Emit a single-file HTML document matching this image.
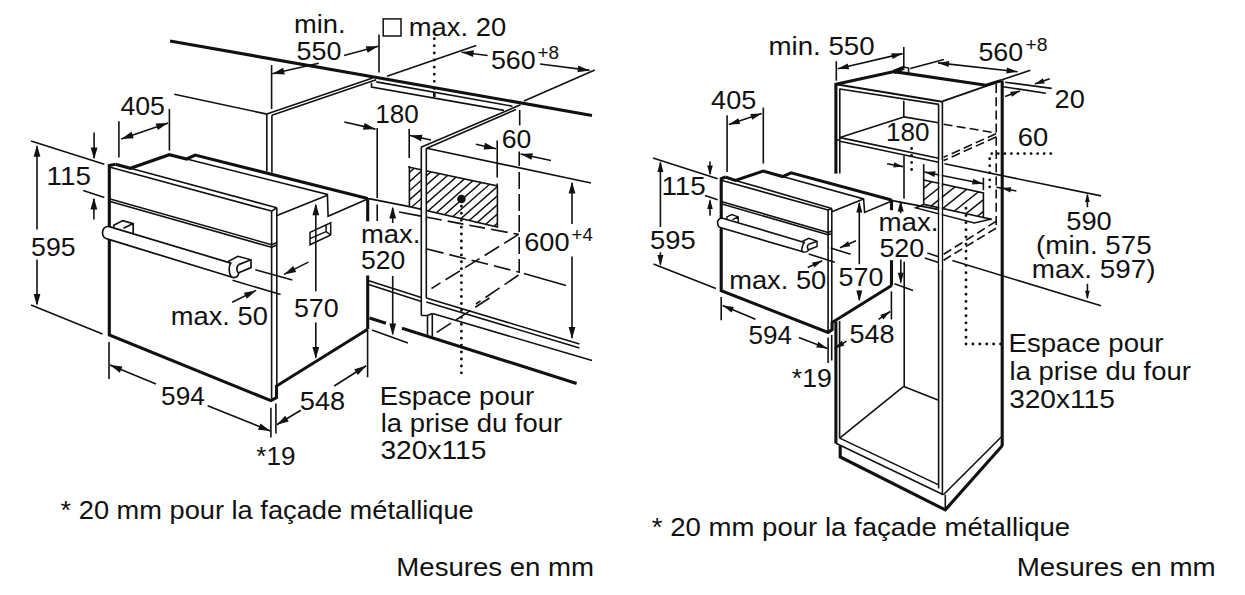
<!DOCTYPE html>
<html lang="fr"><head><meta charset="utf-8"><title>Mesures en mm</title>
<style>
html,body{margin:0;padding:0;background:#fff;}
body{width:1245px;height:595px;overflow:hidden;}
svg{display:block}
svg text{font-family:"Liberation Sans",sans-serif;fill:#111;stroke:none}
</style></head><body>
<svg width="1245" height="595" viewBox="0 0 1245 595" stroke="#111" fill="none">
<rect x="0" y="0" width="1245" height="595" fill="#fff" stroke="none"/>
<line x1="170" y1="41" x2="592" y2="115.5" stroke-width="3.1"/>
<line x1="174.3" y1="94.2" x2="266.8" y2="114.1" stroke-width="1.6"/>
<line x1="266.8" y1="114.1" x2="266.8" y2="171.5" stroke-width="1.6"/>
<line x1="271.9" y1="115.2" x2="271.9" y2="172.7" stroke-width="1.6"/>
<line x1="271.6" y1="65.1" x2="271.6" y2="109" stroke-width="1.6"/>
<line x1="266.8" y1="114.1" x2="372.7" y2="78" stroke-width="1.6"/>
<line x1="271.9" y1="115.2" x2="376.1" y2="79.7" stroke-width="1.6"/>
<polyline points="371.5,82.8 371.5,87 504,110.4" stroke-width="1.6" fill="none" stroke-linejoin="miter"/>
<line x1="376.3" y1="81.9" x2="512.5" y2="106.2" stroke-width="1.6"/>
<line x1="520.5" y1="104.8" x2="421" y2="147.3" stroke-width="1.6"/>
<line x1="516" y1="109.5" x2="426.7" y2="148.2" stroke-width="1.6"/>
<line x1="519.7" y1="110" x2="519.7" y2="125.4" stroke-width="1.6"/>
<line x1="318.7" y1="63.2" x2="272.3" y2="73.8" stroke-width="1.6"/>
<polygon points="272.3,73.8 283.2,67.8 284.8,74.4" fill="#111" stroke="none"/>
<line x1="344" y1="55.6" x2="378.3" y2="46.3" stroke-width="1.6"/>
<polygon points="378.3,46.3 367.6,52.7 365.8,46.2" fill="#111" stroke="none"/>
<line x1="379" y1="34.5" x2="379" y2="72.5" stroke-width="1.6"/>
<text transform="translate(294.07,32.8) scale(1.0267,1)" font-size="26.6">min.</text>
<text transform="translate(296.59,59.8) scale(1.0122,1)" font-size="26.6">550</text>
<rect x="383.2" y="18.9" width="17.8" height="17.1" stroke-width="1.5"/>
<text transform="translate(408.77,36.1) scale(1.0301,1)" font-size="26.6">max. 20</text>
<line x1="434.3" y1="38.7" x2="434.3" y2="90" stroke-width="2.9" stroke-dasharray="0.01 7.1" stroke-linecap="round"/>
<line x1="434.3" y1="92.5" x2="434.3" y2="97" stroke-width="2.6"/>
<line x1="387" y1="76.3" x2="476.2" y2="45.4" stroke-width="1.6"/>
<line x1="487.7" y1="55.5" x2="461.6" y2="52.2" stroke-width="1.6"/>
<polygon points="461.6,52.2 473.9,50.3 473.1,57.1" fill="#111" stroke="none"/>
<text transform="translate(490.89,69) scale(1.0099,1)" font-size="26.6">560</text>
<text transform="translate(537.50,58.6) scale(0.9955,1)" font-size="19">+8</text>
<line x1="540" y1="64" x2="589.7" y2="70.4" stroke-width="1.6"/>
<polygon points="589.7,70.4 577.4,72.2 578.2,65.5" fill="#111" stroke="none"/>
<line x1="524" y1="101" x2="594.8" y2="69.9" stroke-width="1.6"/>
<text transform="translate(375.24,122.9) scale(0.9800,1)" font-size="26.6">180</text>
<line x1="344.3" y1="122" x2="375.5" y2="129.1" stroke-width="1.6"/>
<polygon points="375.5,129.1 363.0,129.8 364.6,123.1" fill="#111" stroke="none"/>
<line x1="377.2" y1="128" x2="377.2" y2="198" stroke-width="1.6"/>
<line x1="377.2" y1="204.6" x2="377.2" y2="221" stroke-width="1.6"/>
<line x1="409.2" y1="129" x2="409.2" y2="168" stroke-width="1.6" stroke-dasharray="29 8"/>
<line x1="431" y1="140" x2="410" y2="135.5" stroke-width="1.6"/>
<polygon points="410.0,135.5 422.4,134.7 421.0,141.3" fill="#111" stroke="none"/>
<text transform="translate(501.80,147.5) scale(1.0004,1)" font-size="26.6">60</text>
<line x1="475.8" y1="144.3" x2="496" y2="148.7" stroke-width="1.6"/>
<polygon points="496.0,148.7 483.6,149.5 485.0,142.8" fill="#111" stroke="none"/>
<line x1="497.2" y1="140.6" x2="497.2" y2="186.5" stroke-width="1.6" stroke-dasharray="37 6"/>
<line x1="551" y1="160.5" x2="520.5" y2="154" stroke-width="1.6"/>
<polygon points="520.5,154.0 532.9,153.2 531.5,159.8" fill="#111" stroke="none"/>
<line x1="519.2" y1="151.5" x2="519.2" y2="273" stroke-width="1.6" stroke-dasharray="14.5 6 17 5 17 4 17 5 17 5"/>
<line x1="426.7" y1="148.2" x2="591" y2="183" stroke-width="1.6"/>
<defs><clipPath id="hc1"><polygon points="409.4,167.3 497.4,186 497.4,227.1 409.4,206.6"/></clipPath></defs>
<path d="M197.4,240 L288.4,160 M207.8,240 L298.8,160 M218.2,240 L309.2,160 M228.6,240 L319.6,160 M239.0,240 L330.0,160 M249.4,240 L340.4,160 M259.8,240 L350.8,160 M270.2,240 L361.2,160 M280.6,240 L371.6,160 M291.0,240 L382.0,160 M301.4,240 L392.4,160 M311.8,240 L402.8,160 M322.2,240 L413.2,160 M332.6,240 L423.6,160 M343.0,240 L434.0,160 M353.4,240 L444.4,160 M363.8,240 L454.8,160 M374.2,240 L465.2,160 M384.6,240 L475.6,160 M395.0,240 L486.0,160 M405.4,240 L496.4,160 M415.8,240 L506.8,160 M426.2,240 L517.2,160 M436.6,240 L527.6,160 M447.0,240 L538.0,160 M457.4,240 L548.4,160 M467.8,240 L558.8,160 M478.2,240 L569.2,160 M488.6,240 L579.6,160 M499.0,240 L590.0,160 M509.4,240 L600.4,160 M519.8,240 L610.8,160 M530.2,240 L621.2,160 M540.6,240 L631.6,160 M551.0,240 L642.0,160 M561.4,240 L652.4,160 M571.8,240 L662.8,160 M582.2,240 L673.2,160 M592.6,240 L683.6,160 M603.0,240 L694.0,160" stroke-width="1.45" clip-path="url(#hc1)"/>
<polygon points="409.4,167.3 497.4,186 497.4,227.1 409.4,206.6" stroke-width="1.6" fill="none" stroke-linejoin="miter"/>
<rect x="421.4" y="150" width="5" height="150" fill="#fff" stroke="none"/>
<line x1="421.3" y1="147.3" x2="421.3" y2="315.5" stroke-width="1.6"/>
<line x1="426.3" y1="148.2" x2="426.3" y2="298" stroke-width="1.6"/>
<circle cx="461.4" cy="199" r="4.3" fill="#111" stroke="none"/>
<line x1="461.4" y1="206.3" x2="461.4" y2="373.5" stroke-width="2.9" stroke-dasharray="0.01 6.93" stroke-linecap="round"/>
<line x1="368.9" y1="198.6" x2="409.4" y2="206.6" stroke-width="1.6"/>
<line x1="399" y1="212" x2="421" y2="216.1" stroke-width="1.6"/>
<line x1="427" y1="217.3" x2="518.6" y2="234.4" stroke-width="1.6" stroke-dasharray="15 6 16 6 16 6 17 6"/>
<line x1="427" y1="249" x2="518.6" y2="272" stroke-width="1.6" stroke-dasharray="17 6"/>
<line x1="524" y1="273.5" x2="566" y2="285.6" stroke-width="1.6"/>
<line x1="518.6" y1="234.4" x2="431.5" y2="288.5" stroke-width="1.6" stroke-dasharray="17 6"/>
<line x1="518.6" y1="275" x2="476" y2="304" stroke-width="1.6" stroke-dasharray="17 6"/>
<line x1="489.5" y1="298" x2="432" y2="335.5" stroke-width="1.6" stroke-dasharray="17 6"/>
<line x1="572" y1="183" x2="572" y2="224" stroke-width="1.6"/>
<polygon points="572.0,181.5 575.4,193.5 568.6,193.5" fill="#111" stroke="none"/>
<line x1="572" y1="256.5" x2="572" y2="338" stroke-width="1.6"/>
<polygon points="572.0,339.0 568.6,327.0 575.4,327.0" fill="#111" stroke="none"/>
<text transform="translate(524.18,250.9) scale(1.0216,1)" font-size="26.6">600</text>
<text transform="translate(571.60,241.2) scale(0.9800,1)" font-size="19">+4</text>
<text transform="translate(360.97,243) scale(1.0325,1)" font-size="26.6">max.</text>
<text transform="translate(361.00,269) scale(0.9958,1)" font-size="26.6">520</text>
<line x1="392.7" y1="208" x2="392.7" y2="223" stroke-width="1.6"/>
<polygon points="392.7,206.4 396.1,218.4 389.3,218.4" fill="#111" stroke="none"/>
<line x1="392.7" y1="276" x2="392.7" y2="334" stroke-width="1.6"/>
<polygon points="392.7,335.5 389.3,323.5 396.1,323.5" fill="#111" stroke="none"/>
<line x1="372" y1="330" x2="408" y2="343" stroke-width="1.6"/>
<line x1="367.7" y1="198" x2="367.7" y2="221.4" stroke-width="3.1"/>
<line x1="367.7" y1="275.5" x2="367.7" y2="329.3" stroke-width="3.1"/>
<line x1="369.5" y1="318" x2="386" y2="323.2" stroke-width="3.1"/>
<line x1="402" y1="328.2" x2="576.6" y2="383.4" stroke-width="3.1"/>
<line x1="368.7" y1="280.8" x2="421.3" y2="297.5" stroke-width="1.6"/>
<line x1="368.7" y1="284.5" x2="421.3" y2="301.5" stroke-width="1.6"/>
<line x1="426.3" y1="298" x2="579.5" y2="344" stroke-width="1.6"/>
<line x1="426.3" y1="302" x2="579.5" y2="348" stroke-width="1.6"/>
<line x1="432.5" y1="313.5" x2="592" y2="360.5" stroke-width="1.6"/>
<polyline points="421.3,315.5 427.5,315.5 427.5,335.5" stroke-width="1.6" fill="none" stroke-linejoin="miter"/>
<line x1="432.3" y1="313.5" x2="432.3" y2="336.5" stroke-width="1.6"/>
<line x1="427.5" y1="315.5" x2="432.3" y2="313.5" stroke-width="1.6"/>
<line x1="367.6" y1="330.5" x2="367.6" y2="377.3" stroke-width="1.6"/>
<line x1="334.2" y1="386" x2="366.2" y2="365.8" stroke-width="1.6"/>
<polygon points="366.2,365.8 357.9,375.1 354.2,369.3" fill="#111" stroke="none"/>
<text transform="translate(299.78,409.7) scale(1.0216,1)" font-size="26.6">548</text>
<line x1="300.8" y1="410.3" x2="276.7" y2="424.8" stroke-width="1.6"/>
<polygon points="276.7,424.8 285.2,415.7 288.7,421.5" fill="#111" stroke="none"/>
<polyline points="115.5,164.2 109.3,165.5 109.3,335 270.9,400.6 276.5,397.6 276.5,386 367.7,329.3" stroke-width="3.1" fill="none" stroke-linejoin="miter"/>
<line x1="271.6" y1="211.1" x2="271.6" y2="400" stroke-width="1.6"/>
<line x1="276.8" y1="207.8" x2="276.8" y2="386" stroke-width="1.6"/>
<line x1="271.6" y1="211.1" x2="276.8" y2="207.8" stroke-width="1.6"/>
<polyline points="115.5,164.2 130.4,168.3 169.3,154.7 186.7,159 195.1,155.1 367.7,198.5" stroke-width="3.1" fill="none" stroke-linejoin="miter"/>
<line x1="130.4" y1="168.3" x2="276.8" y2="207.8" stroke-width="1.6"/>
<line x1="109.3" y1="166.9" x2="271.6" y2="211.1" stroke-width="1.6"/>
<polyline points="186.7,159 327.4,194.5 328.1,216.2 366.5,199.4" stroke-width="1.6" fill="none" stroke-linejoin="miter"/>
<line x1="277" y1="215.6" x2="327.4" y2="195.3" stroke-width="1.6"/>
<line x1="109.3" y1="198.7" x2="271.6" y2="244.7" stroke-width="1.6"/>
<line x1="109.3" y1="201.2" x2="271.6" y2="247.3" stroke-width="1.6"/>
<line x1="271.6" y1="244.7" x2="276.8" y2="242.5" stroke-width="1.6"/>
<line x1="271.6" y1="247.3" x2="276.8" y2="245" stroke-width="1.6"/>
<path d="M109.2,226.6 L230.9,263.1 C228.5,265.5 228.5,275 232.2,277.3 L107.9,239.1 C104.8,238.6 102.8,237 102.5,233.3 C102.3,229.5 104.5,225.8 109.2,226.6 Z" fill="#fff" stroke-width="1.7" stroke-linejoin="round"/>
<path d="M232.2,277.3 C235.5,278.2 238.5,276.5 238.7,273 C236.5,271.5 236,268 238.6,264.6" stroke-width="1.7"/>
<path d="M113.8,227.8 L113.8,225.3 L122.8,220.6 L133.2,223.6 L133.2,233.6 M133.2,223.6 L123.5,228.3" stroke-width="1.7"/>
<path d="M229,262.4 L229,261.1 L238,256.3 L251,259.8 L251,267.6 L238.7,272.8 M251,259.8 L238.6,264.6" stroke-width="1.7"/>
<line x1="255.3" y1="269.8" x2="292.4" y2="280" stroke-width="1.6"/>
<line x1="232.5" y1="280.3" x2="280.6" y2="294.6" stroke-width="1.6"/>
<line x1="308.4" y1="262.1" x2="284" y2="274.4" stroke-width="1.6"/>
<polygon points="284.0,274.4 293.2,266.0 296.2,272.0" fill="#111" stroke="none"/>
<line x1="232.2" y1="302.2" x2="256.1" y2="290.4" stroke-width="1.6"/>
<polygon points="256.1,290.4 246.8,298.8 243.8,292.7" fill="#111" stroke="none"/>
<text transform="translate(170.77,324.5) scale(1.0269,1)" font-size="26.6">max. 50</text>
<text transform="translate(293.89,316.6) scale(1.0099,1)" font-size="26.6">570</text>
<line x1="315.8" y1="205" x2="315.8" y2="291.3" stroke-width="1.6"/>
<polygon points="315.8,203.3 319.2,215.3 312.4,215.3" fill="#111" stroke="none"/>
<line x1="315.8" y1="322.5" x2="315.8" y2="357.5" stroke-width="1.6"/>
<polygon points="315.8,359.1 312.4,347.1 319.2,347.1" fill="#111" stroke="none"/>
<path d="M310,232.4 L330.7,222.7 L330.7,235 L310,244.7 Z M310,238.6 L326.1,231.6 L326.1,225 M326.1,231.6 L330.7,235" stroke-width="1.5"/>
<text transform="translate(120.40,115.3) scale(1.0050,1)" font-size="26.6">405</text>
<line x1="118.9" y1="121.2" x2="118.9" y2="157.4" stroke-width="1.6"/>
<line x1="169.4" y1="108.9" x2="169.4" y2="150.6" stroke-width="1.6"/>
<line x1="121.2" y1="138.9" x2="168.1" y2="122.9" stroke-width="1.6"/>
<polygon points="168.1,122.9 157.8,130.0 155.6,123.6" fill="#111" stroke="none"/>
<polygon points="121.2,138.9 131.5,131.8 133.7,138.2" fill="#111" stroke="none"/>
<line x1="31" y1="141.1" x2="104.3" y2="164.2" stroke-width="1.6"/>
<line x1="94.1" y1="132.5" x2="94.1" y2="158" stroke-width="1.6"/>
<polygon points="94.1,159.5 90.7,147.5 97.5,147.5" fill="#111" stroke="none"/>
<line x1="83.2" y1="190.4" x2="104.3" y2="197.4" stroke-width="1.6"/>
<line x1="93.9" y1="199" x2="93.9" y2="219.4" stroke-width="1.6"/>
<polygon points="93.9,197.4 97.3,209.4 90.5,209.4" fill="#111" stroke="none"/>
<text transform="translate(46.61,185.3) scale(1.0428,1)" font-size="26.6">115</text>
<line x1="37" y1="146.5" x2="37" y2="229.5" stroke-width="1.6"/>
<polygon points="37.0,144.8 40.4,156.8 33.6,156.8" fill="#111" stroke="none"/>
<line x1="37" y1="259.5" x2="37" y2="304" stroke-width="1.6"/>
<polygon points="37.0,306.0 33.6,294.0 40.4,294.0" fill="#111" stroke="none"/>
<text transform="translate(31.10,256.1) scale(1.0028,1)" font-size="26.6">595</text>
<line x1="31" y1="305" x2="102.5" y2="334" stroke-width="1.6"/>
<line x1="109" y1="342" x2="109" y2="379" stroke-width="1.6"/>
<line x1="156" y1="384" x2="110" y2="365" stroke-width="1.6"/>
<polygon points="110.0,365.0 122.4,366.4 119.8,372.7" fill="#111" stroke="none"/>
<text transform="translate(161.11,404.7) scale(0.9867,1)" font-size="26.6">594</text>
<line x1="207.7" y1="405.7" x2="270.4" y2="431" stroke-width="1.6"/>
<polygon points="270.4,431.0 258.0,429.7 260.5,423.4" fill="#111" stroke="none"/>
<line x1="270.9" y1="407.7" x2="270.9" y2="437.4" stroke-width="1.6"/>
<line x1="275.9" y1="403.6" x2="275.9" y2="433.4" stroke-width="1.6"/>
<text transform="translate(256.30,465.4) scale(0.9811,1)" font-size="26.6">*19</text>
<text transform="translate(379.73,404.5) scale(1.0348,1)" font-size="26.6">Espace pour</text>
<text transform="translate(380.77,431.5) scale(1.0311,1)" font-size="26.6">la prise du four</text>
<text transform="translate(380.44,459.3) scale(1.0583,1)" font-size="26.6">320x115</text>
<text transform="translate(60.60,518.6) scale(1.0239,1)" font-size="26.6">* 20 mm pour la façade métallique</text>
<text transform="translate(396.33,576.2) scale(1.0374,1)" font-size="26.6">Mesures en mm</text>
<text transform="translate(768.56,55.4) scale(1.0398,1)" font-size="26.6">min. 550</text>
<text transform="translate(711.10,108.8) scale(1.0165,1)" font-size="26.6">405</text>
<text transform="translate(978.39,61.2) scale(1.0099,1)" font-size="26.6">560</text>
<text transform="translate(1025.50,51.2) scale(1.0192,1)" font-size="19">+8</text>
<text transform="translate(1054.58,108.1) scale(1.0219,1)" font-size="26.6">20</text>
<text transform="translate(886.04,141.3) scale(0.9800,1)" font-size="26.6">180</text>
<text transform="translate(1017.67,145.5) scale(1.0291,1)" font-size="26.6">60</text>
<text transform="translate(661.40,195.2) scale(1.0478,1)" font-size="26.6">115</text>
<text transform="translate(649.97,248.9) scale(1.0286,1)" font-size="26.6">595</text>
<text transform="translate(878.46,230.7) scale(1.0417,1)" font-size="26.6">max.</text>
<text transform="translate(879.39,256.9) scale(1.0099,1)" font-size="26.6">520</text>
<text transform="translate(729.17,289.4) scale(1.0269,1)" font-size="26.6">max. 50</text>
<text transform="translate(838.59,286.3) scale(1.0099,1)" font-size="26.6">570</text>
<text transform="translate(748.42,343.5) scale(0.9800,1)" font-size="26.6">594</text>
<text transform="translate(849.38,342.6) scale(1.0169,1)" font-size="26.6">548</text>
<text transform="translate(791.80,386.9) scale(1.0041,1)" font-size="26.6">*19</text>
<text transform="translate(1066.27,229.8) scale(1.0263,1)" font-size="26.6">590</text>
<text transform="translate(1036.06,253.9) scale(1.0425,1)" font-size="26.6">(min. 575</text>
<text transform="translate(1031.75,277.9) scale(1.0474,1)" font-size="26.6">max. 597)</text>
<text transform="translate(1008.52,352) scale(1.0382,1)" font-size="26.6">Espace pour</text>
<text transform="translate(1009.57,379.9) scale(1.0305,1)" font-size="26.6">la prise du four</text>
<text transform="translate(1009.14,408) scale(1.0562,1)" font-size="26.6">320x115</text>
<text transform="translate(651.80,536.4) scale(1.0371,1)" font-size="26.6">* 20 mm pour la façade métallique</text>
<text transform="translate(1016.71,575.6) scale(1.0438,1)" font-size="26.6">Mesures en mm</text>
<line x1="836.3" y1="61.2" x2="836.3" y2="80.7" stroke-width="1.6"/>
<line x1="903.8" y1="46.9" x2="903.8" y2="68" stroke-width="1.6"/>
<line x1="837.7" y1="68.8" x2="902.6" y2="53.6" stroke-width="1.6"/>
<polygon points="902.6,53.6 892.6,59.0 891.2,53.2" fill="#111" stroke="none"/>
<polygon points="837.7,68.8 847.7,63.4 849.1,69.2" fill="#111" stroke="none"/>
<line x1="727.1" y1="115.2" x2="727.1" y2="171.9" stroke-width="1.6"/>
<line x1="763.3" y1="107.6" x2="763.3" y2="163.5" stroke-width="1.6"/>
<line x1="728.8" y1="124.5" x2="761.7" y2="113.5" stroke-width="1.6"/>
<polygon points="761.7,113.5 752.2,119.8 750.3,114.1" fill="#111" stroke="none"/>
<polygon points="728.8,124.5 738.3,118.2 740.2,123.9" fill="#111" stroke="none"/>
<line x1="910.2" y1="68.5" x2="944" y2="59.5" stroke-width="1.6"/>
<line x1="938" y1="62.9" x2="1017.6" y2="71.8" stroke-width="1.6"/>
<polygon points="1017.6,71.8 1006.3,73.6 1007.0,67.6" fill="#111" stroke="none"/>
<polygon points="938.0,62.9 949.3,61.1 948.6,67.1" fill="#111" stroke="none"/>
<line x1="1001.3" y1="80" x2="1030.3" y2="70.3" stroke-width="1.6"/>
<line x1="1005.1" y1="82.2" x2="1051.7" y2="88.4" stroke-width="1.6"/>
<line x1="1003" y1="86.7" x2="1045.9" y2="93.2" stroke-width="1.6"/>
<line x1="1049.7" y1="78.7" x2="1034.9" y2="84.1" stroke-width="1.6"/>
<polygon points="1034.9,84.1 1042.9,78.3 1044.7,83.4" fill="#111" stroke="none"/>
<line x1="1005.1" y1="96.4" x2="1020" y2="91" stroke-width="1.6"/>
<polygon points="1020.0,91.0 1012.0,96.8 1010.1,91.7" fill="#111" stroke="none"/>
<polyline points="835.9,84.3 894.2,71.6 986,85.2 1001.5,80.4" stroke-width="3.1" fill="none" stroke-linejoin="miter"/>
<line x1="893.5" y1="72" x2="904" y2="67.6" stroke-width="4.2"/>
<polyline points="903.5,67 908.6,68 908.6,73.4 897,73" stroke-width="1.5" fill="none" stroke-linejoin="miter"/>
<line x1="1001" y1="80.9" x2="942.3" y2="101.4" stroke-width="1.9"/>
<line x1="835.9" y1="84.3" x2="942.3" y2="101.7" stroke-width="1.9"/>
<line x1="840" y1="89" x2="938.9" y2="104.4" stroke-width="1.6"/>
<line x1="835.9" y1="83" x2="835.9" y2="173.6" stroke-width="3.1"/>
<line x1="839.8" y1="88.5" x2="839.8" y2="173.6" stroke-width="1.6"/>
<line x1="835.9" y1="321.5" x2="835.9" y2="443.5" stroke-width="3.1"/>
<line x1="839.6" y1="321" x2="839.6" y2="438.2" stroke-width="1.6"/>
<line x1="938.6" y1="104.4" x2="938.6" y2="488.5" stroke-width="1.6"/>
<line x1="942.4" y1="101.7" x2="942.4" y2="494.8" stroke-width="1.6"/>
<line x1="1002.2" y1="80.4" x2="1002.2" y2="446" stroke-width="3.1"/>
<line x1="996.2" y1="84" x2="996.2" y2="228.2" stroke-width="1.6" stroke-dasharray="9 4.2"/>
<line x1="903.8" y1="100.8" x2="903.8" y2="116.9" stroke-width="1.6"/>
<line x1="903.8" y1="116.9" x2="840" y2="137.5" stroke-width="1.6"/>
<line x1="903.8" y1="116.9" x2="938.6" y2="122.8" stroke-width="1.6"/>
<line x1="943.6" y1="124.3" x2="996" y2="132.9" stroke-width="1.6" stroke-dasharray="9 4.2"/>
<line x1="840" y1="137.6" x2="938.6" y2="158.2" stroke-width="1.6"/>
<line x1="840" y1="141.3" x2="938.6" y2="162.2" stroke-width="1.6"/>
<line x1="836" y1="139.5" x2="840" y2="140.5" stroke-width="1.6"/>
<line x1="996" y1="133.7" x2="943.6" y2="157.3" stroke-width="1.6" stroke-dasharray="9 4.2"/>
<line x1="996" y1="137" x2="943.6" y2="160.6" stroke-width="1.6" stroke-dasharray="9 4.2"/>
<line x1="991.7" y1="153.6" x2="1051" y2="153.6" stroke-width="2.9" stroke-dasharray="0.01 6.55" stroke-linecap="round"/>
<line x1="989.7" y1="158.8" x2="989.7" y2="188.5" stroke-width="2.9" stroke-dasharray="0.01 7.0" stroke-linecap="round"/>
<line x1="904" y1="155.7" x2="904" y2="198.8" stroke-width="1.6"/>
<line x1="887.1" y1="163.8" x2="903.1" y2="166.6" stroke-width="1.6"/>
<polygon points="903.1,166.6 893.3,167.6 894.2,162.3" fill="#111" stroke="none"/>
<line x1="911.6" y1="148.5" x2="911.6" y2="171" stroke-width="2.9" stroke-dasharray="0.01 7.0" stroke-linecap="round"/>
<line x1="923.7" y1="164.1" x2="923.7" y2="180" stroke-width="1.6"/>
<line x1="924.2" y1="172" x2="983.4" y2="183.8" stroke-width="1.6"/>
<polygon points="983.4,183.8 972.0,184.6 973.2,178.7" fill="#111" stroke="none"/>
<polygon points="924.2,172.0 935.6,171.2 934.4,177.1" fill="#111" stroke="none"/>
<line x1="983.4" y1="177.6" x2="983.4" y2="190.2" stroke-width="1.6"/>
<line x1="944.5" y1="163.8" x2="1101" y2="195.9" stroke-width="1.6"/>
<line x1="996.4" y1="187.2" x2="1003" y2="188.4" stroke-width="1.6"/>
<line x1="1016.4" y1="191" x2="1001.5" y2="188" stroke-width="1.6"/>
<polygon points="1001.5,188.0 1011.3,187.2 1010.3,192.5" fill="#111" stroke="none"/>
<defs><clipPath id="hc2"><polygon points="923.7,180 983.4,193 983.4,217.5 923.7,204.4"/></clipPath></defs>
<path d="M774.6,248.3 L894.6,152.3 M789.4,248.3 L909.4,152.3 M804.2,248.3 L924.2,152.3 M819.0,248.3 L939.0,152.3 M833.8,248.3 L953.8,152.3 M848.6,248.3 L968.6,152.3 M863.4,248.3 L983.4,152.3 M878.2,248.3 L998.2,152.3 M893.0,248.3 L1013.0,152.3 M907.8,248.3 L1027.8,152.3 M922.6,248.3 L1042.6,152.3 M937.4,248.3 L1057.4,152.3 M952.2,248.3 L1072.2,152.3 M967.0,248.3 L1087.0,152.3 M981.8,248.3 L1101.8,152.3 M996.6,248.3 L1116.6,152.3 M1011.4,248.3 L1131.4,152.3 M1026.2,248.3 L1146.2,152.3" stroke-width="1.5" clip-path="url(#hc2)"/>
<polygon points="923.7,180 983.4,193 983.4,217.5 923.7,204.4" stroke-width="1.6" fill="none" stroke-linejoin="miter"/>
<polyline points="923.7,204.4 915.8,207.9 974.4,223 991.6,219" stroke-width="1.6" fill="none" stroke-linejoin="miter"/>
<line x1="983.4" y1="217.5" x2="991.6" y2="219.4" stroke-width="1.6"/>
<rect x="939.4" y="160" width="2.2" height="110" fill="#fff" stroke="none"/>
<line x1="966" y1="208.3" x2="966" y2="344" stroke-width="2.9" stroke-dasharray="0.01 7.15" stroke-linecap="round"/>
<line x1="966" y1="344" x2="1001" y2="344" stroke-width="2.9" stroke-dasharray="0.01 6.9" stroke-linecap="round"/>
<line x1="996" y1="221.4" x2="943.6" y2="254.3" stroke-width="1.6" stroke-dasharray="9 4.2"/>
<line x1="996" y1="228.2" x2="943.6" y2="260.2" stroke-width="1.6" stroke-dasharray="9 4.2"/>
<line x1="927.3" y1="253" x2="938.6" y2="256.7" stroke-width="1.6"/>
<line x1="924.8" y1="258.1" x2="938.6" y2="262.6" stroke-width="1.6"/>
<line x1="952.3" y1="260.5" x2="1101" y2="305.7" stroke-width="1.6"/>
<line x1="1087.4" y1="195" x2="1087.4" y2="207.3" stroke-width="1.6"/>
<polygon points="1087.4,193.5 1089.8,202.0 1085.0,202.0" fill="#111" stroke="none"/>
<line x1="1087.4" y1="283.8" x2="1087.4" y2="298" stroke-width="1.6"/>
<polygon points="1087.4,299.3 1085.0,290.8 1089.8,290.8" fill="#111" stroke="none"/>
<polyline points="725.3,177 721.2,178.7 721.2,290.6 828.1,332.4 832.1,329.6 832.1,322.5 891.6,285.5" stroke-width="3.1" fill="none" stroke-linejoin="miter"/>
<polyline points="725.3,177 735.4,180.4 763.2,171.1 782.6,176.6 791.1,172.8 891.5,199.9" stroke-width="3.1" fill="none" stroke-linejoin="miter"/>
<line x1="891.5" y1="199.5" x2="891.5" y2="210.2" stroke-width="3.1"/>
<line x1="891.5" y1="260.2" x2="891.5" y2="285.7" stroke-width="3.1"/>
<line x1="735.4" y1="180.4" x2="831.8" y2="208.4" stroke-width="1.6"/>
<line x1="721.2" y1="180.2" x2="828.1" y2="210" stroke-width="1.6"/>
<line x1="828.1" y1="210" x2="831.8" y2="208.4" stroke-width="1.6"/>
<line x1="828.1" y1="210" x2="828.1" y2="332" stroke-width="1.6"/>
<line x1="831.8" y1="208.4" x2="831.8" y2="323" stroke-width="1.6"/>
<polyline points="782.6,176.6 863.6,198.9 864.6,212.4 890.6,201.4" stroke-width="1.6" fill="none" stroke-linejoin="miter"/>
<line x1="831.8" y1="211.8" x2="863.6" y2="198.9" stroke-width="1.6"/>
<line x1="721.2" y1="201.6" x2="828.1" y2="232.4" stroke-width="1.6"/>
<line x1="721.2" y1="203.8" x2="828.1" y2="234.8" stroke-width="1.6"/>
<line x1="828.1" y1="232.4" x2="831.8" y2="231" stroke-width="1.6"/>
<line x1="828.1" y1="234.8" x2="831.8" y2="233.4" stroke-width="1.6"/>
<path d="M722.6,218.2 L804.4,242.4 C802.5,243.8 801.3,250 802.2,251.6 L721,227.8 C718.8,227.3 717.7,225.6 717.6,222.8 C717.6,220.4 719,217.8 722.6,218.2 Z" fill="#fff" stroke-width="1.6" stroke-linejoin="round"/>
<path d="M802.2,251.6 C804.5,252.6 807.5,251.8 808.7,249.8 C807,248.6 806.8,246 808.6,244.2" stroke-width="1.6"/>
<path d="M726.9,219 L726.9,216.9 L731.9,214.6 L738.2,216.9 L738.2,222.6 M738.2,216.9 L732.5,219.6" stroke-width="1.5"/>
<path d="M802.8,241.8 L802.8,241.3 L808.7,238.3 L817.1,241.3 L817.1,246.4 L808.7,249.8 M817.1,241.3 L808.6,244.2" stroke-width="1.5"/>
<line x1="830.6" y1="248.1" x2="850.6" y2="254.2" stroke-width="1.6"/>
<line x1="808.7" y1="254" x2="834.8" y2="262.3" stroke-width="1.6"/>
<line x1="856" y1="240.7" x2="840" y2="247.8" stroke-width="1.6"/>
<polygon points="840.0,247.8 848.0,241.2 850.3,246.3" fill="#111" stroke="none"/>
<line x1="807.8" y1="267.5" x2="822.2" y2="260.7" stroke-width="1.6"/>
<polygon points="822.2,260.7 814.4,267.5 812.0,262.4" fill="#111" stroke="none"/>
<line x1="859.3" y1="203" x2="859.3" y2="264.3" stroke-width="1.6"/>
<polygon points="859.3,201.6 862.3,212.6 856.3,212.6" fill="#111" stroke="none"/>
<line x1="859.3" y1="290.5" x2="859.3" y2="300" stroke-width="1.6"/>
<polygon points="859.3,301.6 856.3,290.6 862.3,290.6" fill="#111" stroke="none"/>
<line x1="653" y1="158" x2="717.7" y2="178.7" stroke-width="1.6"/>
<line x1="710" y1="161.5" x2="710" y2="174" stroke-width="1.6"/>
<polygon points="710.0,175.4 707.2,165.4 712.8,165.4" fill="#111" stroke="none"/>
<line x1="705" y1="195.5" x2="717.7" y2="199.8" stroke-width="1.6"/>
<line x1="710" y1="200.5" x2="710" y2="215.8" stroke-width="1.6"/>
<polygon points="710.0,198.9 712.8,208.9 707.2,208.9" fill="#111" stroke="none"/>
<line x1="660.4" y1="162.5" x2="660.4" y2="227" stroke-width="1.6"/>
<polygon points="660.4,161.0 663.4,172.0 657.4,172.0" fill="#111" stroke="none"/>
<line x1="660.4" y1="252.3" x2="660.4" y2="264.5" stroke-width="1.6"/>
<polygon points="660.4,266.0 657.4,255.0 663.4,255.0" fill="#111" stroke="none"/>
<line x1="653.5" y1="264.1" x2="715.9" y2="288.5" stroke-width="1.6"/>
<line x1="721.2" y1="297.1" x2="721.2" y2="320.3" stroke-width="1.6"/>
<line x1="755.5" y1="319.3" x2="722.6" y2="305.6" stroke-width="1.6"/>
<polygon points="722.6,305.6 733.9,307.1 731.6,312.6" fill="#111" stroke="none"/>
<line x1="798.8" y1="337.5" x2="827.5" y2="348.6" stroke-width="1.6"/>
<polygon points="827.5,348.6 816.2,347.4 818.3,341.8" fill="#111" stroke="none"/>
<line x1="828.1" y1="337.5" x2="828.1" y2="362.9" stroke-width="1.6"/>
<line x1="831.7" y1="335" x2="831.7" y2="360.5" stroke-width="1.6"/>
<line x1="846.6" y1="341.1" x2="834.5" y2="348.4" stroke-width="1.6"/>
<polygon points="834.5,348.4 841.6,340.8 844.5,345.6" fill="#111" stroke="none"/>
<line x1="891.4" y1="291.3" x2="891.4" y2="319.4" stroke-width="1.6"/>
<line x1="878.6" y1="319.4" x2="890.1" y2="311.5" stroke-width="1.6"/>
<polygon points="890.1,311.5 883.4,319.5 880.3,314.9" fill="#111" stroke="none"/>
<line x1="892.3" y1="200.6" x2="938" y2="209.4" stroke-width="1.6"/>
<line x1="900.7" y1="202" x2="900.7" y2="213.2" stroke-width="1.6"/>
<polygon points="900.7,200.6 903.7,211.6 897.7,211.6" fill="#111" stroke="none"/>
<line x1="900.8" y1="259.5" x2="900.8" y2="282.5" stroke-width="1.6"/>
<polygon points="900.8,283.8 897.8,272.8 903.8,272.8" fill="#111" stroke="none"/>
<line x1="894.5" y1="283.7" x2="913" y2="290.5" stroke-width="1.6"/>
<line x1="904.2" y1="261.8" x2="904.2" y2="386.4" stroke-width="1.6"/>
<line x1="903.7" y1="386.4" x2="839.7" y2="438.1" stroke-width="1.6"/>
<line x1="903.7" y1="386.4" x2="938.6" y2="400.2" stroke-width="1.6"/>
<line x1="839.7" y1="438.1" x2="938.6" y2="484.9" stroke-width="1.6"/>
<line x1="835.9" y1="443.3" x2="943.4" y2="494.8" stroke-width="1.6"/>
<polyline points="840.2,445.6 840.2,457 945.3,509.9 1002.2,445.8" stroke-width="3.1" fill="none" stroke-linejoin="miter"/>
<line x1="945.3" y1="494.8" x2="945.3" y2="509.9" stroke-width="1.6"/>
<line x1="943.4" y1="494.8" x2="1002.2" y2="436" stroke-width="1.6"/>
</svg>
</body></html>
